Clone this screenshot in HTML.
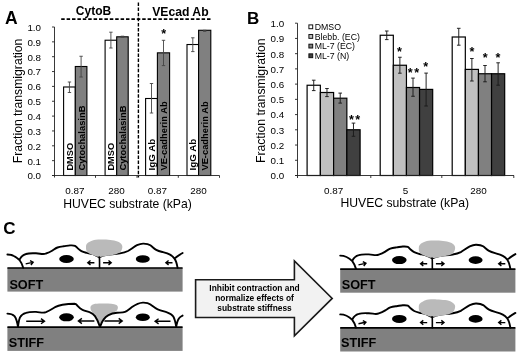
<!DOCTYPE html>
<html><head><meta charset="utf-8"><title>Figure</title>
<style>
html,body{margin:0;padding:0;background:#fff;}
svg{display:block;}
text{font-family:"Liberation Sans",Arial,sans-serif;fill:#000;}
.b{font-weight:bold;}
</style></head><body>
<svg width="520" height="354" viewBox="0 0 520 354">
<rect width="520" height="354" fill="#fff"/>
<g id="panelA">
<text class="b" x="5" y="23.6" font-size="17.5">A</text>
<text class="b" x="93.5" y="15" font-size="12" text-anchor="middle">CytoB</text>
<text class="b" x="180.4" y="15.6" font-size="12.2" text-anchor="middle">VEcad Ab</text>
<path d="M61.2 19.1H212" stroke="#000" stroke-width="1.6" stroke-dasharray="3.5 1.9" fill="none"/>
<path d="M138.4 2.5V177.5" stroke="#000" stroke-width="1.4" stroke-dasharray="3.5 1.6" fill="none"/>
<rect x="63.6" y="86.99" width="11.7" height="88.51" fill="#fff" stroke="#000" stroke-width="1.1"/>
<rect x="75.3" y="66.5" width="11.6" height="109" fill="#808080" stroke="#000" stroke-width="1.1"/>
<rect x="105.1" y="40.22" width="11.6" height="135.28" fill="#fff" stroke="#000" stroke-width="1.1"/>
<rect x="116.7" y="36.8" width="11.5" height="138.7" fill="#808080" stroke="#000" stroke-width="1.1"/>
<rect x="145.6" y="98.5" width="11.8" height="77" fill="#fff" stroke="#000" stroke-width="1.1"/>
<rect x="157.4" y="52.84" width="12.2" height="122.66" fill="#808080" stroke="#000" stroke-width="1.1"/>
<rect x="187" y="44.52" width="11.6" height="130.98" fill="#fff" stroke="#000" stroke-width="1.1"/>
<rect x="198.6" y="30.27" width="12.2" height="145.23" fill="#808080" stroke="#000" stroke-width="1.1"/>
<path d="M69.45 82V92.5M67.75 82h3.4M67.75 92.5h3.4" stroke="#444" stroke-width="0.9" fill="none"/>
<text class="b" font-size="9.25" transform="translate(72.85 170.6) rotate(-90)">DMSO</text>
<path d="M81.1 56.25V77M79.4 56.25h3.4M79.4 77h3.4" stroke="#444" stroke-width="0.9" fill="none"/>
<text class="b" font-size="9.37" transform="translate(84.5 170.6) rotate(-90)">CytochalasinB</text>
<path d="M110.9 32.2V48M109.2 32.2h3.4M109.2 48h3.4" stroke="#444" stroke-width="0.9" fill="none"/>
<text class="b" font-size="9.25" transform="translate(114.3 170.6) rotate(-90)">DMSO</text>
<path d="M122.45 36.2V37.3M120.75 36.2h3.4M120.75 37.3h3.4" stroke="#444" stroke-width="0.9" fill="none"/>
<text class="b" font-size="9.37" transform="translate(125.85 170.6) rotate(-90)">CytochalasinB</text>
<path d="M151.5 83.5V113M149.8 83.5h3.4M149.8 113h3.4" stroke="#444" stroke-width="0.9" fill="none"/>
<text class="b" font-size="9.85" transform="translate(154.9 170.6) rotate(-90)">IgG Ab</text>
<path d="M163.5 40.3V65.6M161.8 40.3h3.4M161.8 65.6h3.4" stroke="#444" stroke-width="0.9" fill="none"/>
<text class="b" font-size="9.35" transform="translate(166.9 170.6) rotate(-90)">VE-cadherin Ab</text>
<path d="M192.8 37.8V51.6M191.1 37.8h3.4M191.1 51.6h3.4" stroke="#444" stroke-width="0.9" fill="none"/>
<text class="b" font-size="9.85" transform="translate(196.2 170.6) rotate(-90)">IgG Ab</text>
<path d="M204.7 30.3V31.3M203 30.3h3.4M203 31.3h3.4" stroke="#444" stroke-width="0.9" fill="none"/>
<text class="b" font-size="9.35" transform="translate(208.1 170.6) rotate(-90)">VE-cadherin Ab</text>
<text x="163.8" y="37.5" font-size="12.6" font-weight="bold" text-anchor="middle">*</text>
<path d="M54.5 27V177.5M52 175.5H219.5M52 175.5h2.5M52 160.65h2.5M52 145.8h2.5M52 130.95h2.5M52 116.1h2.5M52 101.25h2.5M52 86.4h2.5M52 71.55h2.5M52 56.7h2.5M52 41.85h2.5M52 27h2.5M95.5 175.5v2.3M137 175.5v2.3M178.3 175.5v2.3M219.5 175.5v2.3" stroke="#222" stroke-width="0.9" fill="none"/>
<text x="41" y="179.4" font-size="9.8" text-anchor="end">0.0</text>
<text x="41" y="164.55" font-size="9.8" text-anchor="end">0.1</text>
<text x="41" y="149.7" font-size="9.8" text-anchor="end">0.2</text>
<text x="41" y="134.85" font-size="9.8" text-anchor="end">0.3</text>
<text x="41" y="120" font-size="9.8" text-anchor="end">0.4</text>
<text x="41" y="105.15" font-size="9.8" text-anchor="end">0.5</text>
<text x="41" y="90.3" font-size="9.8" text-anchor="end">0.6</text>
<text x="41" y="75.45" font-size="9.8" text-anchor="end">0.7</text>
<text x="41" y="60.6" font-size="9.8" text-anchor="end">0.8</text>
<text x="41" y="45.75" font-size="9.8" text-anchor="end">0.9</text>
<text x="41" y="30.9" font-size="9.8" text-anchor="end">1.0</text>
<text x="74.9" y="194" font-size="9.9" text-anchor="middle">0.87</text>
<text x="116.4" y="194" font-size="9.9" text-anchor="middle">280</text>
<text x="157.3" y="194" font-size="9.9" text-anchor="middle">0.87</text>
<text x="198.6" y="194" font-size="9.9" text-anchor="middle">280</text>
<text x="127.5" y="208" font-size="12.2" text-anchor="middle">HUVEC substrate (kPa)</text>
<text font-size="12.2" text-anchor="middle" transform="translate(21.6 101) rotate(-90)">Fraction transmigration</text>
</g>
<g id="panelB">
<text class="b" x="246.9" y="23.5" font-size="17">B</text>
<rect x="307.1" y="85.25" width="13.25" height="90.25" fill="#fff" stroke="#000" stroke-width="1.2"/>
<rect x="320.35" y="92.5" width="13.25" height="83" fill="#c0c0c0" stroke="#000" stroke-width="1.2"/>
<rect x="333.6" y="98.2" width="13.25" height="77.3" fill="#808080" stroke="#000" stroke-width="1.2"/>
<rect x="346.85" y="129.75" width="13.25" height="45.75" fill="#404040" stroke="#000" stroke-width="1.2"/>
<rect x="380.2" y="35.25" width="13.12" height="140.25" fill="#fff" stroke="#000" stroke-width="1.2"/>
<rect x="393.32" y="65.25" width="13.12" height="110.25" fill="#c0c0c0" stroke="#000" stroke-width="1.2"/>
<rect x="406.44" y="87.5" width="13.12" height="88" fill="#808080" stroke="#000" stroke-width="1.2"/>
<rect x="419.56" y="89.4" width="13.12" height="86.1" fill="#404040" stroke="#000" stroke-width="1.2"/>
<rect x="452.2" y="37" width="13.12" height="138.5" fill="#fff" stroke="#000" stroke-width="1.2"/>
<rect x="465.32" y="69.4" width="13.12" height="106.1" fill="#c0c0c0" stroke="#000" stroke-width="1.2"/>
<rect x="478.44" y="73.75" width="13.12" height="101.75" fill="#808080" stroke="#000" stroke-width="1.2"/>
<rect x="491.56" y="73.75" width="13.12" height="101.75" fill="#404040" stroke="#000" stroke-width="1.2"/>
<path d="M313.73 80.2V90.6M311.93 80.2h3.6M311.93 90.6h3.6" stroke="#1a1a1a" stroke-width="0.95" fill="none"/>
<path d="M326.98 88.5V96.6M325.18 88.5h3.6M325.18 96.6h3.6" stroke="#1a1a1a" stroke-width="0.95" fill="none"/>
<path d="M340.23 93.1V103.1M338.43 93.1h3.6M338.43 103.1h3.6" stroke="#1a1a1a" stroke-width="0.95" fill="none"/>
<path d="M353.48 123.1V136.25M351.68 123.1h3.6M351.68 136.25h3.6" stroke="#1a1a1a" stroke-width="0.95" fill="none"/>
<path d="M386.76 31V39.6M384.96 31h3.6M384.96 39.6h3.6" stroke="#1a1a1a" stroke-width="0.95" fill="none"/>
<path d="M399.88 57.25V73.2M398.08 57.25h3.6M398.08 73.2h3.6" stroke="#1a1a1a" stroke-width="0.95" fill="none"/>
<path d="M413 78.1V96.25M411.2 78.1h3.6M411.2 96.25h3.6" stroke="#1a1a1a" stroke-width="0.95" fill="none"/>
<path d="M426.12 73.1V106M424.32 73.1h3.6M424.32 106h3.6" stroke="#1a1a1a" stroke-width="0.95" fill="none"/>
<path d="M458.76 28.3V45.2M456.96 28.3h3.6M456.96 45.2h3.6" stroke="#1a1a1a" stroke-width="0.95" fill="none"/>
<path d="M471.88 58.5V81M470.08 58.5h3.6M470.08 81h3.6" stroke="#1a1a1a" stroke-width="0.95" fill="none"/>
<path d="M485 65.5V81.8M483.2 65.5h3.6M483.2 81.8h3.6" stroke="#1a1a1a" stroke-width="0.95" fill="none"/>
<path d="M498.12 62.8V85.2M496.32 62.8h3.6M496.32 85.2h3.6" stroke="#1a1a1a" stroke-width="0.95" fill="none"/>
<text x="351.4" y="123.7" font-size="12.6" font-weight="bold" text-anchor="middle">*</text>
<text x="357.8" y="123.7" font-size="12.6" font-weight="bold" text-anchor="middle">*</text>
<text x="399.4" y="55.6" font-size="12.6" font-weight="bold" text-anchor="middle">*</text>
<text x="410.2" y="77.45" font-size="12.6" font-weight="bold" text-anchor="middle">*</text>
<text x="416.6" y="77.45" font-size="12.6" font-weight="bold" text-anchor="middle">*</text>
<text x="425.6" y="70.7" font-size="12.6" font-weight="bold" text-anchor="middle">*</text>
<text x="472" y="55.8" font-size="12.6" font-weight="bold" text-anchor="middle">*</text>
<text x="485.1" y="61.5" font-size="12.6" font-weight="bold" text-anchor="middle">*</text>
<text x="497.9" y="61.5" font-size="12.6" font-weight="bold" text-anchor="middle">*</text>
<path d="M297.5 23.2V178M295 175.5H514M295 175.5h2.5M295 160.27h2.5M295 145.04h2.5M295 129.81h2.5M295 114.58h2.5M295 99.35h2.5M295 84.12h2.5M295 68.89h2.5M295 53.66h2.5M295 38.43h2.5M295 23.2h2.5M370.8 175.5v2.5M441.8 175.5v2.5M513.8 175.5v2.5" stroke="#222" stroke-width="0.9" fill="none"/>
<text x="284.2" y="179.4" font-size="9.8" text-anchor="end">0.0</text>
<text x="284.2" y="164.17" font-size="9.8" text-anchor="end">0.1</text>
<text x="284.2" y="148.94" font-size="9.8" text-anchor="end">0.2</text>
<text x="284.2" y="133.71" font-size="9.8" text-anchor="end">0.3</text>
<text x="284.2" y="118.48" font-size="9.8" text-anchor="end">0.4</text>
<text x="284.2" y="103.25" font-size="9.8" text-anchor="end">0.5</text>
<text x="284.2" y="88.02" font-size="9.8" text-anchor="end">0.6</text>
<text x="284.2" y="72.79" font-size="9.8" text-anchor="end">0.7</text>
<text x="284.2" y="57.56" font-size="9.8" text-anchor="end">0.8</text>
<text x="284.2" y="42.33" font-size="9.8" text-anchor="end">0.9</text>
<text x="284.2" y="27.1" font-size="9.8" text-anchor="end">1.0</text>
<text x="333.6" y="194" font-size="9.9" text-anchor="middle">0.87</text>
<text x="405.5" y="194" font-size="9.9" text-anchor="middle">5</text>
<text x="478.5" y="194" font-size="9.9" text-anchor="middle">280</text>
<text x="404.8" y="207.1" font-size="12.2" text-anchor="middle">HUVEC substrate (kPa)</text>
<text font-size="12.2" text-anchor="middle" transform="translate(264.8 100.7) rotate(-90)">Fraction transmigration</text>
<rect x="308.9" y="24.9" width="3.8" height="3.8" fill="#fff" stroke="#111" stroke-width="1"/>
<text x="314.7" y="29.9" font-size="8.75">DMSO</text>
<rect x="308.9" y="34.55" width="3.8" height="3.8" fill="#c0c0c0" stroke="#111" stroke-width="1"/>
<text x="314.7" y="39.55" font-size="8.75">Blebb. (EC)</text>
<rect x="308.9" y="44.2" width="3.8" height="3.8" fill="#808080" stroke="#111" stroke-width="1"/>
<text x="314.7" y="49.2" font-size="8.75">ML-7 (EC)</text>
<rect x="308.9" y="53.85" width="3.8" height="3.8" fill="#404040" stroke="#111" stroke-width="1"/>
<text x="314.7" y="58.85" font-size="8.75">ML-7 (N)</text>
</g>
<g id="panelC">
<text class="b" x="3.3" y="233.7" font-size="17">C</text>
<g transform="translate(0 0)">
<rect x="7.4" y="267.8" width="175.2" height="23.8" fill="#808080"/>
<path d="M7.4 254.5 C12 254.5 16 256.5 19.5 260 C21.5 262.5 22.5 265.5 23.2 267.8 M19.6 259.5 C21 256.5 23 254.8 26 254 C29 253 32 253.3 36 253.3 C40 253.3 43 255 46 253.5 C48.5 252.8 50.5 251.8 52.5 250.5 C54.5 249.2 55.5 248.3 57.5 247.5 C59.5 246.8 61.5 246.6 63.75 246.3 C66 246 68 245.5 70 245.4 C72 245.3 73.8 245.2 75 245.8 C76.3 246.5 76.8 247.5 77.8 248.4 C79 249.5 80 250.4 81.4 251.1 C83 251.9 85 252.4 86.8 252.9 C89 253.3 91 253.4 93 254.2 C95 255 97.5 256.5 99.4 257.2 M99.4 257.2 C102 255.8 105 255 108 254.6 C112 254.2 116 254 120 253.4 C123 252.9 126 252 128 251 C131 249.3 134 246.6 137 245.2 C139.5 244 141.5 243.5 143.5 243.6 C146 243.7 148.5 244 150.3 245.2 C152.5 246.8 154 248.6 156.2 249.8 C158.5 251 160.5 251.5 163 252.2 C165.5 252.9 168 253.6 170 254.7 C172 255.8 173.3 257 174.5 258.6 C176.3 261 177 264.5 177.6 267.8 M174.5 258.4 C177 256.5 180 254.5 182.6 253" fill="none" stroke="#000" stroke-width="1.9" stroke-linejoin="round" stroke-linecap="round"/>
<path d="M86.0 246.6 C86.1 245.4 86.2 244.7 86.9 243.8 C87.6 243.0 88.7 242.2 90.2 241.5 C91.6 240.8 93.4 240.0 95.7 239.7 C98.0 239.4 101.2 239.4 104.0 239.5 C106.8 239.6 109.8 239.7 112.3 240.2 C114.8 240.6 117.2 241.2 118.8 242.0 C120.4 242.8 121.5 244.0 122.0 245.2 C122.5 246.3 122.4 247.7 122.0 248.9 C121.6 250.1 120.9 251.7 119.7 252.6 C118.5 253.5 117.1 254.0 115.1 254.5 C113.1 255.0 110.3 255.4 107.7 255.8 C105.1 256.2 101.7 257.0 99.4 256.9 C97.1 256.8 95.5 256.0 93.8 255.4 C92.1 254.8 90.4 254.3 89.2 253.5 C88.0 252.7 87.0 252.0 86.5 250.8 C86.0 249.7 85.9 247.8 86.0 246.6Z" fill="#bababa"/>
<path d="M99.3 257 C99.9 260 99.3 264 99.6 268" fill="none" stroke="#000" stroke-width="1.6" stroke-linecap="round"/>
<path d="M7.4 268H182.6" stroke="#000" stroke-width="1.6"/>
<ellipse cx="66.5" cy="259" rx="7.3" ry="4" fill="#000"/>
<ellipse cx="142.8" cy="259" rx="7" ry="3.8" fill="#000"/>
<g transform="rotate(-12 29.5 263)"><path d="M25.6 263H32.7M30.5 260.8L33.2 263L30.5 265.2" fill="none" stroke="#000" stroke-width="1.4" stroke-linejoin="miter"/>
</g>
<path d="M94.4 262.7H88.3M90.5 260.5L87.8 262.7L90.5 264.9" fill="none" stroke="#000" stroke-width="1.4" stroke-linejoin="miter"/>
<path d="M103.1 262.7H110.7M108.5 260.5L111.2 262.7L108.5 264.9" fill="none" stroke="#000" stroke-width="1.4" stroke-linejoin="miter"/>
<path d="M172.5 262.7H166.4M168.6 260.5L165.9 262.7L168.6 264.9" fill="none" stroke="#000" stroke-width="1.4" stroke-linejoin="miter"/>
<text class="b" x="9.4" y="288.9" font-size="12.7">SOFT</text>
</g>
<g>
<g transform="translate(0 0.6)">
<rect x="7.4" y="326.5" width="175.2" height="23.8" fill="#808080"/>
<path d="M90.5 308 C90 304.5 93 303.2 99 303 C106 302.8 113 302.8 116.5 304.5 C119 306 118 310 115 311.5 C111 313 107 314.5 105 317 C103 320 101.5 323 100.3 325.5 C99 323 97.5 319 96.5 316.5 C95 313.5 91 312 90.5 308Z" fill="#b9b9b9"/>
<path d="M7.4 313 C10 313 12.5 313.5 14.5 315.5 C16.5 318 17.3 322 18 326.3 C18.5 322 19 319 20 316.8 C21.5 314 23.5 313 26 312.3 C29 311.3 32 311.2 36 311.3 C40 311.5 43 312.8 46 311.6 C49 310.3 52 308.4 55 306.6 C57.5 305.2 60 304.5 62.5 304.1 C66 303.6 71 303.2 74.5 303.1 C76.5 303.2 76.8 304.5 77.8 305.6 C79 307 80.5 308.3 82.5 309.2 C85 310.3 87.5 310.8 90 311.7 C92.3 312.6 93.8 313.8 95 315.5 C97 318.3 98.8 322.5 100 326.3 C101 323.5 102 321 103.5 319 C105 316.8 106.5 315.5 108.5 314.5 C111 313.2 114 312.5 117 312.2 C120 311.9 122.5 312.3 125 311.3 C127.5 310.3 129.5 308.3 132 306.5 C135.5 304 139 302.2 142.8 302 C146 301.9 148.5 302.3 150.5 303.8 C153 305.6 155 307.6 157.7 308.7 C161 310 164 310.8 167 311.8 C170 312.8 172 313.8 173.3 316 C175 319 175.6 322.5 176.2 326 C176.8 322.5 177.6 319.5 179 317.7 C180 316.3 181.3 315.6 182.6 315" fill="none" stroke="#000" stroke-width="1.9" stroke-linejoin="round" stroke-linecap="round"/>
<path d="M7.4 326.5H182.6" stroke="#000" stroke-width="1.6"/>
<ellipse cx="66.5" cy="316.7" rx="7.3" ry="4" fill="#000"/>
<ellipse cx="142.8" cy="316.6" rx="7" ry="3.8" fill="#000"/>
</g>
<path d="M26.2 321.2H44M41 318.6L44.5 321.2L41 323.8" fill="none" stroke="#000" stroke-width="1.4" stroke-linejoin="miter"/>
<path d="M94.4 321H78.9M81.9 318.4L78.4 321L81.9 323.6" fill="none" stroke="#000" stroke-width="1.4" stroke-linejoin="miter"/>
<path d="M104.4 321H121.7M118.7 318.4L122.2 321L118.7 323.6" fill="none" stroke="#000" stroke-width="1.4" stroke-linejoin="miter"/>
<path d="M170.5 321.3H155.6M158.6 318.7L155.1 321.3L158.6 323.9" fill="none" stroke="#000" stroke-width="1.4" stroke-linejoin="miter"/>
<text class="b" x="8.8" y="347" font-size="12.7">STIFF</text>
</g>
<g transform="translate(332.8 1.1)">
<rect x="7.4" y="267.8" width="175.2" height="23.8" fill="#808080"/>
<path d="M7.4 254.5 C12 254.5 16 256.5 19.5 260 C21.5 262.5 22.5 265.5 23.2 267.8 M19.6 259.5 C21 256.5 23 254.8 26 254 C29 253 32 253.3 36 253.3 C40 253.3 43 255 46 253.5 C48.5 252.8 50.5 251.8 52.5 250.5 C54.5 249.2 55.5 248.3 57.5 247.5 C59.5 246.8 61.5 246.6 63.75 246.3 C66 246 68 245.5 70 245.4 C72 245.3 73.8 245.2 75 245.8 C76.3 246.5 76.8 247.5 77.8 248.4 C79 249.5 80 250.4 81.4 251.1 C83 251.9 85 252.4 86.8 252.9 C89 253.3 91 253.4 93 254.2 C95 255 97.5 256.5 99.4 257.2 M99.4 257.2 C102 255.8 105 255 108 254.6 C112 254.2 116 254 120 253.4 C123 252.9 126 252 128 251 C131 249.3 134 246.6 137 245.2 C139.5 244 141.5 243.5 143.5 243.6 C146 243.7 148.5 244 150.3 245.2 C152.5 246.8 154 248.6 156.2 249.8 C158.5 251 160.5 251.5 163 252.2 C165.5 252.9 168 253.6 170 254.7 C172 255.8 173.3 257 174.5 258.6 C176.3 261 177 264.5 177.6 267.8 M174.5 258.4 C177 256.5 180 254.5 182.6 253" fill="none" stroke="#000" stroke-width="1.9" stroke-linejoin="round" stroke-linecap="round"/>
<path d="M86.0 246.6 C86.1 245.4 86.2 244.7 86.9 243.8 C87.6 243.0 88.7 242.2 90.2 241.5 C91.6 240.8 93.4 240.0 95.7 239.7 C98.0 239.4 101.2 239.4 104.0 239.5 C106.8 239.6 109.8 239.7 112.3 240.2 C114.8 240.6 117.2 241.2 118.8 242.0 C120.4 242.8 121.5 244.0 122.0 245.2 C122.5 246.3 122.4 247.7 122.0 248.9 C121.6 250.1 120.9 251.7 119.7 252.6 C118.5 253.5 117.1 254.0 115.1 254.5 C113.1 255.0 110.3 255.4 107.7 255.8 C105.1 256.2 101.7 257.0 99.4 256.9 C97.1 256.8 95.5 256.0 93.8 255.4 C92.1 254.8 90.4 254.3 89.2 253.5 C88.0 252.7 87.0 252.0 86.5 250.8 C86.0 249.7 85.9 247.8 86.0 246.6Z" fill="#bababa"/>
<path d="M99.3 257 C99.9 260 99.3 264 99.6 268" fill="none" stroke="#000" stroke-width="1.6" stroke-linecap="round"/>
<path d="M7.4 268H182.6" stroke="#000" stroke-width="1.6"/>
<ellipse cx="66.5" cy="259" rx="7.3" ry="4" fill="#000"/>
<ellipse cx="142.8" cy="259" rx="7" ry="3.8" fill="#000"/>
<g transform="rotate(-12 29.5 263)"><path d="M25.6 263H32.7M30.5 260.8L33.2 263L30.5 265.2" fill="none" stroke="#000" stroke-width="1.4" stroke-linejoin="miter"/>
</g>
<path d="M94.4 262.7H88.3M90.5 260.5L87.8 262.7L90.5 264.9" fill="none" stroke="#000" stroke-width="1.4" stroke-linejoin="miter"/>
<path d="M103.1 262.7H110.7M108.5 260.5L111.2 262.7L108.5 264.9" fill="none" stroke="#000" stroke-width="1.4" stroke-linejoin="miter"/>
<path d="M172.5 262.7H166.4M168.6 260.5L165.9 262.7L168.6 264.9" fill="none" stroke="#000" stroke-width="1.4" stroke-linejoin="miter"/>
<text class="b" x="8.9" y="288" font-size="12.7">SOFT</text>
</g>
<g transform="translate(332.8 59.9)">
<rect x="7.4" y="267.8" width="175.2" height="23.8" fill="#808080"/>
<path d="M7.4 254.5 C12 254.5 16 256.5 19.5 260 C21.5 262.5 22.5 265.5 23.2 267.8 M19.6 259.5 C21 256.5 23 254.8 26 254 C29 253 32 253.3 36 253.3 C40 253.3 43 255 46 253.5 C48.5 252.8 50.5 251.8 52.5 250.5 C54.5 249.2 55.5 248.3 57.5 247.5 C59.5 246.8 61.5 246.6 63.75 246.3 C66 246 68 245.5 70 245.4 C72 245.3 73.8 245.2 75 245.8 C76.3 246.5 76.8 247.5 77.8 248.4 C79 249.5 80 250.4 81.4 251.1 C83 251.9 85 252.4 86.8 252.9 C89 253.3 91 253.4 93 254.2 C95 255 97.5 256.5 99.4 257.2 M99.4 257.2 C102 255.8 105 255 108 254.6 C112 254.2 116 254 120 253.4 C123 252.9 126 252 128 251 C131 249.3 134 246.6 137 245.2 C139.5 244 141.5 243.5 143.5 243.6 C146 243.7 148.5 244 150.3 245.2 C152.5 246.8 154 248.6 156.2 249.8 C158.5 251 160.5 251.5 163 252.2 C165.5 252.9 168 253.6 170 254.7 C172 255.8 173.3 257 174.5 258.6 C176.3 261 177 264.5 177.6 267.8 M174.5 258.4 C177 256.5 180 254.5 182.6 253" fill="none" stroke="#000" stroke-width="1.9" stroke-linejoin="round" stroke-linecap="round"/>
<path d="M86.0 246.6 C86.1 245.4 86.2 244.7 86.9 243.8 C87.6 243.0 88.7 242.2 90.2 241.5 C91.6 240.8 93.4 240.0 95.7 239.7 C98.0 239.4 101.2 239.4 104.0 239.5 C106.8 239.6 109.8 239.7 112.3 240.2 C114.8 240.6 117.2 241.2 118.8 242.0 C120.4 242.8 121.5 244.0 122.0 245.2 C122.5 246.3 122.4 247.7 122.0 248.9 C121.6 250.1 120.9 251.7 119.7 252.6 C118.5 253.5 117.1 254.0 115.1 254.5 C113.1 255.0 110.3 255.4 107.7 255.8 C105.1 256.2 101.7 257.0 99.4 256.9 C97.1 256.8 95.5 256.0 93.8 255.4 C92.1 254.8 90.4 254.3 89.2 253.5 C88.0 252.7 87.0 252.0 86.5 250.8 C86.0 249.7 85.9 247.8 86.0 246.6Z" fill="#bababa"/>
<path d="M99.3 257 C99.9 260 99.3 264 99.6 268" fill="none" stroke="#000" stroke-width="1.6" stroke-linecap="round"/>
<path d="M7.4 268H182.6" stroke="#000" stroke-width="1.6"/>
<ellipse cx="66.5" cy="259" rx="7.3" ry="4" fill="#000"/>
<ellipse cx="142.8" cy="259" rx="7" ry="3.8" fill="#000"/>
<g transform="rotate(-12 29.5 263)"><path d="M25.6 263H32.7M30.5 260.8L33.2 263L30.5 265.2" fill="none" stroke="#000" stroke-width="1.4" stroke-linejoin="miter"/>
</g>
<path d="M94.4 262.7H88.3M90.5 260.5L87.8 262.7L90.5 264.9" fill="none" stroke="#000" stroke-width="1.4" stroke-linejoin="miter"/>
<path d="M103.1 262.7H110.7M108.5 260.5L111.2 262.7L108.5 264.9" fill="none" stroke="#000" stroke-width="1.4" stroke-linejoin="miter"/>
<path d="M172.5 262.7H166.4M168.6 260.5L165.9 262.7L168.6 264.9" fill="none" stroke="#000" stroke-width="1.4" stroke-linejoin="miter"/>
<text class="b" x="8.2" y="287.6" font-size="12.7">STIFF</text>
</g>
<path d="M195.6 279.7H294.4V261L332.2 298.4L294.4 335.8V317.5H195.6Z" fill="#f2f2f2" stroke="#1a1a1a" stroke-width="1.6" stroke-linejoin="miter"/>
<text class="b" x="254.5" y="291.1" font-size="8.4" text-anchor="middle">Inhibit contraction and</text>
<text class="b" x="254.5" y="301.1" font-size="8.4" text-anchor="middle">normalize effects of</text>
<text class="b" x="254.5" y="311.1" font-size="8.4" text-anchor="middle">substrate stiffness</text>
</g>
</svg>
</body></html>
